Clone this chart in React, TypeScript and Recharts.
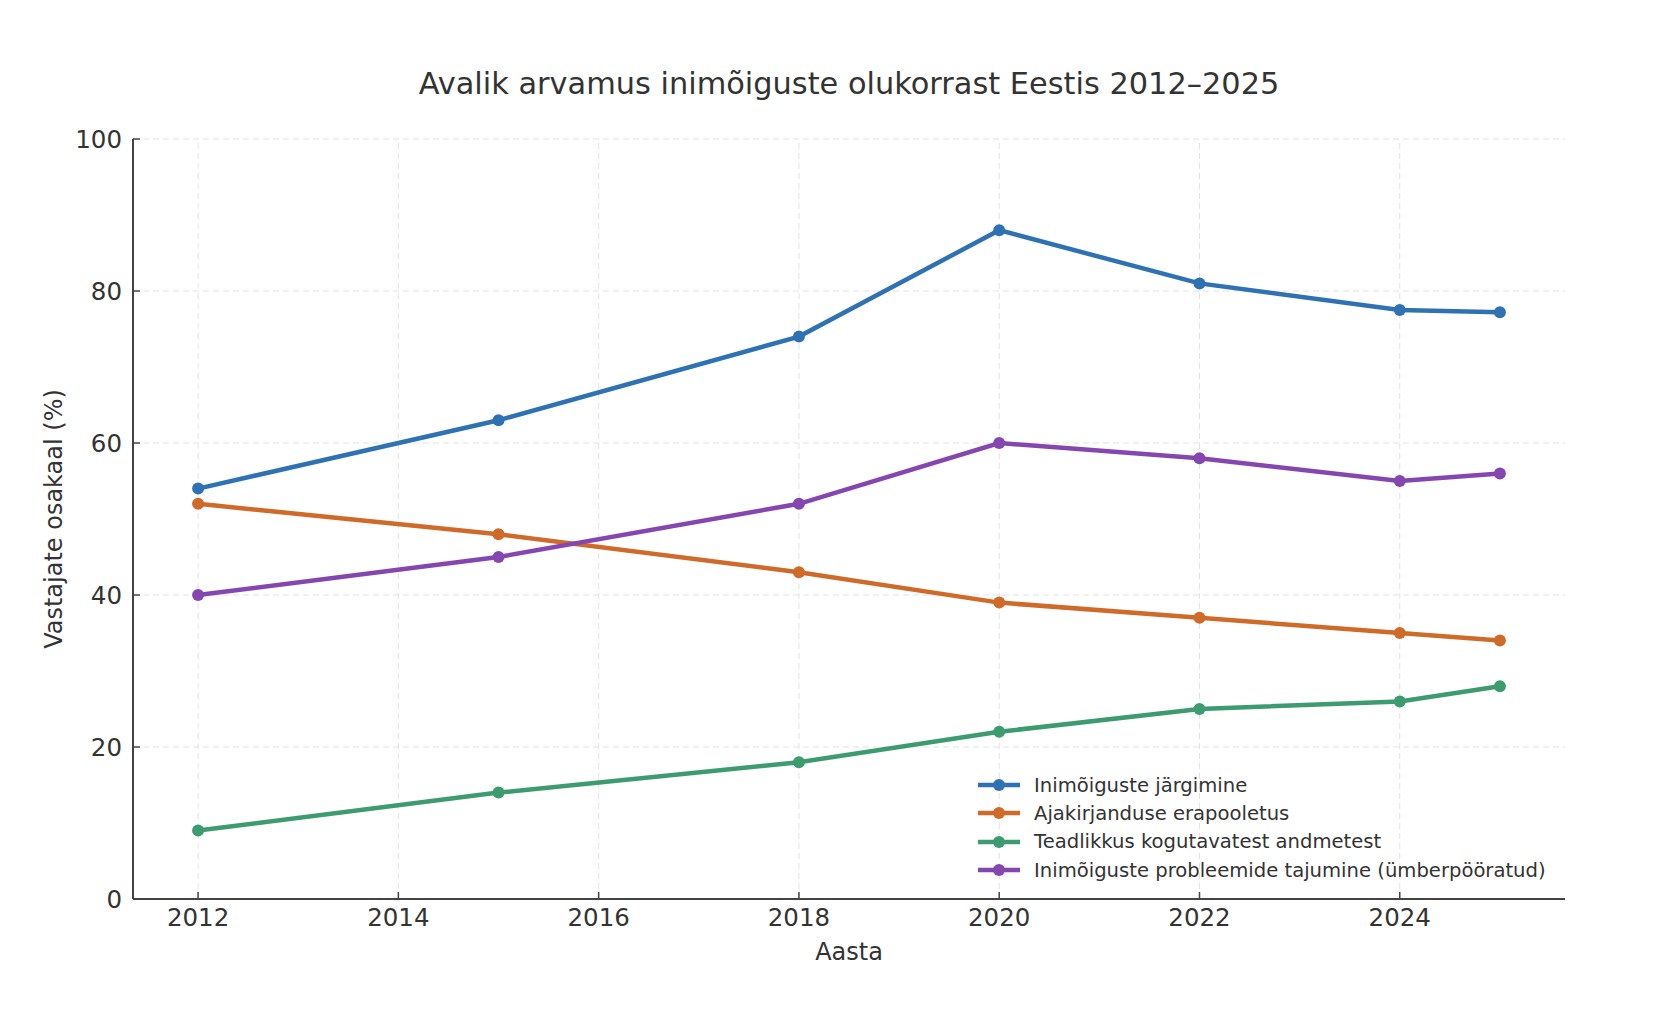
// Avalik arvamus inimõiguste olukorrast Eestis 2012–2025
import { LineChart, Line, XAxis, YAxis, CartesianGrid, Legend, ReferenceLine, Customized } from 'recharts'

// ── Data ───────────────────────────────────────────────────
const years = [2012, 2015, 2018, 2020, 2022, 2024, 2025]
const jargimine = [54, 63, 74, 88, 81, 77.5, 77.2]
const erapooletus = [52, 48, 43, 39, 37, 35, 34]
const teadlikkus = [9, 14, 18, 22, 25, 26, 28]
const tajumine = [40, 45, 52, 60, 58, 55, 56]

const xTicks = [2012, 2014, 2016, 2018, 2020, 2022, 2024]
const yTicks = [0, 20, 40, 60, 80, 100]

const series = [
  { key: 'jargimine', name: 'Inimõiguste järgimine', color: '#2f72b4' },
  { key: 'erapooletus', name: 'Ajakirjanduse erapooletus', color: '#cf6a28' },
  { key: 'teadlikkus', name: 'Teadlikkus kogutavatest andmetest', color: '#3d9b70' },
  { key: 'tajumine', name: 'Inimõiguste probleemide tajumine (ümberpööratud)', color: '#8546b0' },
]

const data = years.map((year, i) => ({
  year,
  jargimine: jargimine[i],
  erapooletus: erapooletus[i],
  teadlikkus: teadlikkus[i],
  tajumine: tajumine[i],
}))

const FONT = '"DejaVu Sans", sans-serif'
const TEXT = '#333333'
const AXIS = '#444444'
const GRID = '#e2e2e2'

// ── Ticks (pointing inwards, like the original) ────────────
function XTick({ x, y, payload }: any) {
  return (
    <g>
      <line x1={x} x2={x} y1={y} y2={y - 7} stroke={AXIS} strokeWidth={1.5} />
      <text x={x} y={y + 27} textAnchor="middle" fontSize={24.5} fill={TEXT} fontFamily={FONT}>
        {payload.value}
      </text>
    </g>
  )
}

function YTick({ x, y, payload }: any) {
  return (
    <g>
      <line x1={x} x2={x + 7} y1={y} y2={y} stroke={AXIS} strokeWidth={1.5} />
      <text x={x - 11} y={y + 9} textAnchor="end" fontSize={24.5} fill={TEXT} fontFamily={FONT}>
        {payload.value}
      </text>
    </g>
  )
}

// ── Legend (kept in series order) ──────────────────────────
function LegendContent() {
  return (
    <div style={{ fontFamily: FONT, fontSize: 19.6, color: TEXT }}>
      {series.map((s) => (
        <div key={s.key} style={{ display: 'flex', alignItems: 'center', height: 28.3, whiteSpace: 'nowrap' }}>
          <svg width={42} height={14} style={{ marginRight: 14, overflow: 'visible' }}>
            <line x1={0} x2={42} y1={7} y2={7} stroke={s.color} strokeWidth={4.5} />
            <circle cx={21} cy={7} r={6} fill={s.color} />
          </svg>
          <span>{s.name}</span>
        </div>
      ))}
    </div>
  )
}

function Title() {
  return (
    <text x={849} y={94} textAnchor="middle" fontSize={30.4} fill={TEXT} fontFamily={FONT}>
      Avalik arvamus inimõiguste olukorrast Eestis 2012–2025
    </text>
  )
}

export default function App() {
  return (
    <div style={{ position: 'absolute', left: 0, top: 0, width: 1670, height: 1016, background: '#fff' }}>
      <LineChart
        width={1670}
        height={1016}
        data={data}
        margin={{ top: 139, right: 105, left: 53, bottom: 47 }}
        style={{ fontFamily: FONT }}
      >
        <CartesianGrid stroke={GRID} strokeDasharray="6 4" strokeWidth={1} vertical={false} />
        {xTicks.map((t) => (
          <ReferenceLine key={t} x={t} stroke={GRID} strokeDasharray="6 4" strokeWidth={1} />
        ))}
        <XAxis
          dataKey="year"
          type="number"
          domain={[2011.35, 2025.65]}
          ticks={xTicks}
          allowDataOverflow
          height={70}
          tickSize={0}
          tickMargin={0}
          tickLine={false}
          tick={<XTick />}
          axisLine={{ stroke: AXIS, strokeWidth: 2 }}
          label={{ value: 'Aasta', position: 'insideTop', offset: 44, fill: TEXT, fontSize: 24 }}
        />
        <YAxis
          type="number"
          domain={[0, 100]}
          ticks={yTicks}
          width={80}
          tickSize={0}
          tickMargin={0}
          tickLine={false}
          tick={<YTick />}
          axisLine={{ stroke: AXIS, strokeWidth: 2 }}
          label={{
            value: 'Vastajate osakaal (%)',
            angle: -90,
            position: 'insideLeft',
            offset: 0,
            fill: TEXT,
            fontSize: 24,
            style: { textAnchor: 'middle' },
          }}
        />
        {series.map((s) => (
          <Line
            key={s.key}
            dataKey={s.key}
            name={s.name}
            stroke={s.color}
            strokeWidth={4.5}
            dot={{ r: 6, fill: s.color, stroke: s.color, strokeWidth: 0 }}
            activeDot={false}
            isAnimationActive={false}
          />
        ))}
        <Legend
          layout="vertical"
          align="center"
          verticalAlign="middle"
          content={<LegendContent />}
          wrapperStyle={{ position: 'absolute', left: 978, top: 771, width: 'auto', height: 'auto' }}
        />
        <Customized component={Title} />
      </LineChart>
    </div>
  )
}
